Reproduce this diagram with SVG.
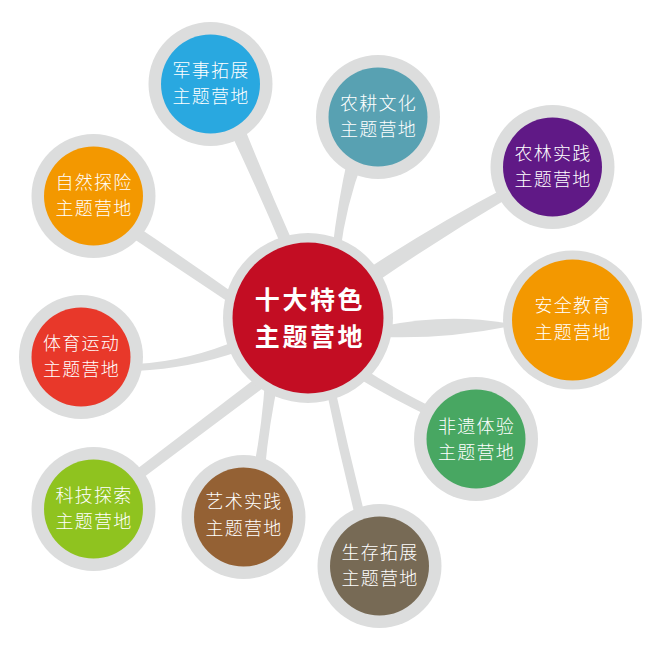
<svg xmlns="http://www.w3.org/2000/svg" width="667" height="652" viewBox="0 0 667 652">
<style>
.bg{fill:#ffffff}
.link{fill:#dcdddd}
.ring{fill:#dcdddd}
.t{font-family:"Noto Sans CJK SC","Noto Sans",sans-serif;font-size:18px;letter-spacing:1.3px;font-weight:300;fill:#ffffff;text-anchor:middle}
.tc{font-family:"Noto Sans CJK SC","Noto Sans",sans-serif;font-size:25px;letter-spacing:2.6px;font-weight:bold;fill:#ffffff;text-anchor:middle}
</style>
<rect class="bg" x="0" y="0" width="667" height="652"/>
<g id="connectors">
<path class="link" d="M227.6,126.2 Q257.4,189.1 284.5,253.2 L295.5,248.4 Q267.1,184.9 241.4,120.2 Z"/>
<path class="link" d="M332,252 Q338,200 348,157 L363,160 Q346,205 340,253 Z"/>
<path class="link" d="M507.2,186.7 Q436,224 368.5,268.2 L374.5,283.2 Q442,237 512.2,195.7 Z"/>
<path class="link" d="M383,326 Q447,313 506,323 L506,327 Q447,339 383,337 Z"/>
<path class="link" d="M359.5,366.1 Q396,390 435.5,408.9 L432.5,417.9 Q392,399 354.5,376.1 Z"/>
<path class="link" d="M325.3,385 Q339,452 356,520 L366.1,520 Q349,452 334.2,385 Z"/>
<path class="link" d="M253.5,470 Q262.3,424 265.2,378 L279,378 Q268.9,424 264.9,470 Z"/>
<path class="link" d="M132,472.8 L262.8,372.7 L267.8,384.4 L138.8,481.1 Z"/>
<path class="link" d="M136,364 Q190,361 240,339 L240,351 Q192,368 136,371 Z"/>
<path class="link" d="M242.2,299.3 Q187,260 134,224.6 L127.2,234.6 Q182,271 236.6,307.5 Z"/>
</g>
<g id="center">
<circle class="ring" cx="308" cy="318" r="85"/>
<circle cx="308" cy="318" r="75.5" fill="#c30d23"/>
<text class="tc" x="310" y="309">十大特色</text>
<text class="tc" x="310" y="345.5">主题营地</text>
</g>
<g id="junshi">
<circle class="ring" cx="210.5" cy="84" r="62"/>
<circle cx="210.5" cy="84" r="49.5" fill="#29a8e0"/>
<text class="t" x="211" y="77">军事拓展</text>
<text class="t" x="211" y="103">主题营地</text>
</g>
<g id="nonggeng">
<circle class="ring" cx="378" cy="117" r="62"/>
<circle cx="378" cy="117" r="49.5" fill="#58a1b2"/>
<text class="t" x="378.5" y="110">农耕文化</text>
<text class="t" x="378.5" y="136">主题营地</text>
</g>
<g id="nonglin">
<circle class="ring" cx="552.5" cy="167" r="62"/>
<circle cx="552.5" cy="167" r="49.5" fill="#601986"/>
<text class="t" x="553" y="160">农林实践</text>
<text class="t" x="553" y="186">主题营地</text>
</g>
<g id="anquan">
<circle class="ring" cx="572.5" cy="320" r="69.5"/>
<circle cx="572.5" cy="320" r="60.5" fill="#f39800"/>
<text class="t" x="573" y="312">安全教育</text>
<text class="t" x="573" y="339">主题营地</text>
</g>
<g id="feiyi">
<circle class="ring" cx="476" cy="439" r="62"/>
<circle cx="476" cy="439" r="49.5" fill="#48a762"/>
<text class="t" x="476.5" y="433">非遗体验</text>
<text class="t" x="476.5" y="459">主题营地</text>
</g>
<g id="shengcun">
<circle class="ring" cx="379.5" cy="566" r="62"/>
<circle cx="379.5" cy="566" r="49.5" fill="#776a55"/>
<text class="t" x="380" y="559">生存拓展</text>
<text class="t" x="380" y="585">主题营地</text>
</g>
<g id="yishu">
<circle class="ring" cx="243.5" cy="517" r="62"/>
<circle cx="243.5" cy="517" r="49.5" fill="#946134"/>
<text class="t" x="244" y="508">艺术实践</text>
<text class="t" x="244" y="535">主题营地</text>
</g>
<g id="keji">
<circle class="ring" cx="93.5" cy="509" r="62"/>
<circle cx="93.5" cy="509" r="49.5" fill="#8fc31f"/>
<text class="t" x="94" y="502">科技探索</text>
<text class="t" x="94" y="528">主题营地</text>
</g>
<g id="tiyu">
<circle class="ring" cx="81" cy="357" r="62"/>
<circle cx="81" cy="357" r="49.5" fill="#e8382a"/>
<text class="t" x="81.5" y="350">体育运动</text>
<text class="t" x="81.5" y="376">主题营地</text>
</g>
<g id="ziran">
<circle class="ring" cx="93.5" cy="196" r="62"/>
<circle cx="93.5" cy="196" r="49.5" fill="#f39800"/>
<text class="t" x="94" y="189">自然探险</text>
<text class="t" x="94" y="215">主题营地</text>
</g>
</svg>
